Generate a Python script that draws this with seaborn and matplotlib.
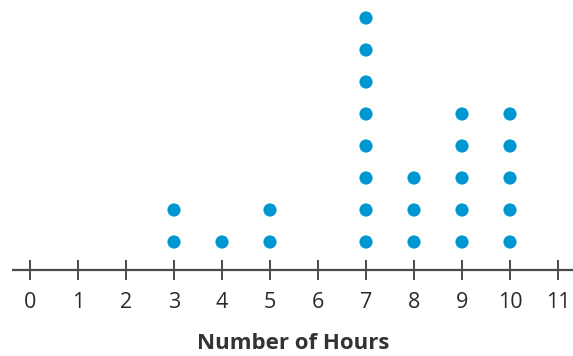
import pandas as pd
import matplotlib
matplotlib.use('Agg')
import matplotlib.pyplot as plt
import seaborn as sns

# Dữ liệu: số giờ và số chấm tương ứng
hours = [3, 4, 5, 7, 8, 9, 10]
counts = [2, 1, 2, 8, 3, 5, 5]
tick_values = list(range(0, 12))
x_label = 'Number of Hours'

sns.set_theme(style='white')
plt.rcParams['font.family'] = ['Open Sans', 'DejaVu Sans']

# Mỗi chấm là một dòng
rows = []
for h, c in zip(hours, counts):
    for k in range(1, c + 1):
        rows.append({'hours': h, 'level': k})
df = pd.DataFrame(rows)

fig = plt.figure(figsize=(5.73, 3.56), dpi=100)
ax = fig.add_axes([0, 0, 1, 1])
ax.set_xlim(-0.625, 11.3125)
ax.set_ylim(-2.5625, 8.5625)
ax.axis('off')

sns.scatterplot(data=df, x='hours', y='level', ax=ax, s=90,
                color='#0096d3', edgecolor='none', legend=False, zorder=3)

# Trục số
line_col = '#4a4a4a'
ax.plot([-0.375, 11.3125], [0.125, 0.125], color=line_col, lw=1.6,
        solid_capstyle='butt')
ax.vlines(tick_values, -0.1875, 0.4375, color=line_col, lw=1.4)
for t in tick_values:
    ax.text(t, -0.9, str(t), ha='center', va='center', fontsize=15.5,
            color='#2a2a2a')

ax.text(5.48, -2.18, x_label, ha='center', va='center', fontsize=16,
        fontweight='bold', color='#333333')

fig.savefig('out.png', dpi=100)
